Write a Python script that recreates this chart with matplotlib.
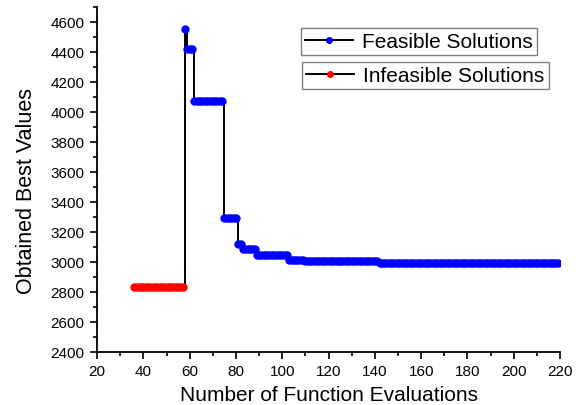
import matplotlib
matplotlib.use("Agg")
import matplotlib.pyplot as plt
from matplotlib.lines import Line2D
from matplotlib.ticker import MultipleLocator
import numpy as np

plt.rcParams['font.family'] = ['Liberation Sans', 'DejaVu Sans']

# best value found so far, stored as runs: (first evaluation, value)
infeasible_start = 36
infeasible_end = 57
infeasible_value = 2830

feasible_starts = [58, 59, 62, 75, 81, 83, 89, 103, 110, 142]
feasible_values = [4550, 4420, 4070, 3290, 3120, 3085, 3045, 3012, 3003, 2995]
last_eval = 219

# expand the runs into one point per function evaluation
inf_x = np.arange(infeasible_start, infeasible_end + 1)
inf_y = np.full(inf_x.shape, infeasible_value)

fea_x = np.arange(feasible_starts[0], last_eval + 1)
fea_y = np.repeat(feasible_values, np.diff(feasible_starts + [last_eval + 1]))

all_x = np.concatenate([inf_x, fea_x])
all_y = np.concatenate([inf_y, fea_y])

fig = plt.figure(figsize=(5.78, 4.06), dpi=100)
ax = fig.add_axes([0.168, 0.131, 0.801, 0.850])

# black connecting line, then the dots on top of it
ax.plot(all_x, all_y, color='black', lw=1.4, drawstyle='steps-post', zorder=2)
ax.plot(inf_x, inf_y, 'o', color='red', ms=5, mec='red', zorder=3)
ax.plot(fea_x, fea_y, 'o', color='blue', ms=5, mec='blue', zorder=3)

ax.xaxis.set_major_locator(MultipleLocator(20))
ax.xaxis.set_minor_locator(MultipleLocator(10))
ax.yaxis.set_minor_locator(MultipleLocator(100))
ax.set_yticks(np.arange(2400, 4601, 200))
ax.set_xlim(20, 220)
ax.set_ylim(2400, 4700)

for side in ('top', 'right'):
    ax.spines[side].set_visible(False)
for side in ('left', 'bottom'):
    ax.spines[side].set_linewidth(1.3)

ax.tick_params(which='major', direction='out', length=5, width=1.2,
               labelsize=11, pad=4)
ax.tick_params(which='minor', direction='out', length=3, width=1.2)

ax.set_xlabel('Number of Function Evaluations', fontsize=15, labelpad=5)
ax.set_ylabel('Obtained Best Values', fontsize=15.5)
ax.yaxis.set_label_coords(-0.13, 0.47)

# two separate legend boxes, stacked in the upper right
h_fea = Line2D([], [], color='black', lw=1.4, marker='o', ms=4, mfc='blue', mec='blue')
h_inf = Line2D([], [], color='black', lw=1.4, marker='o', ms=4, mfc='red', mec='red')

leg_kw = dict(fontsize=15, fancybox=False, framealpha=1, edgecolor='#808080',
              handlelength=2.3, handletextpad=0.45, borderpad=0.2,
              borderaxespad=0, loc='upper left', bbox_transform=fig.transFigure)
leg1 = ax.legend([h_fea], ['Feasible Solutions'],
                 bbox_to_anchor=(301 / 578, 1 - 29 / 406), **leg_kw)
leg1.get_frame().set_linewidth(1.0)
ax.add_artist(leg1)
leg2 = ax.legend([h_inf], ['Infeasible Solutions'],
                 bbox_to_anchor=(302 / 578, 1 - 63 / 406), **leg_kw)
leg2.get_frame().set_linewidth(1.0)

fig.savefig('out.png', dpi=100)
